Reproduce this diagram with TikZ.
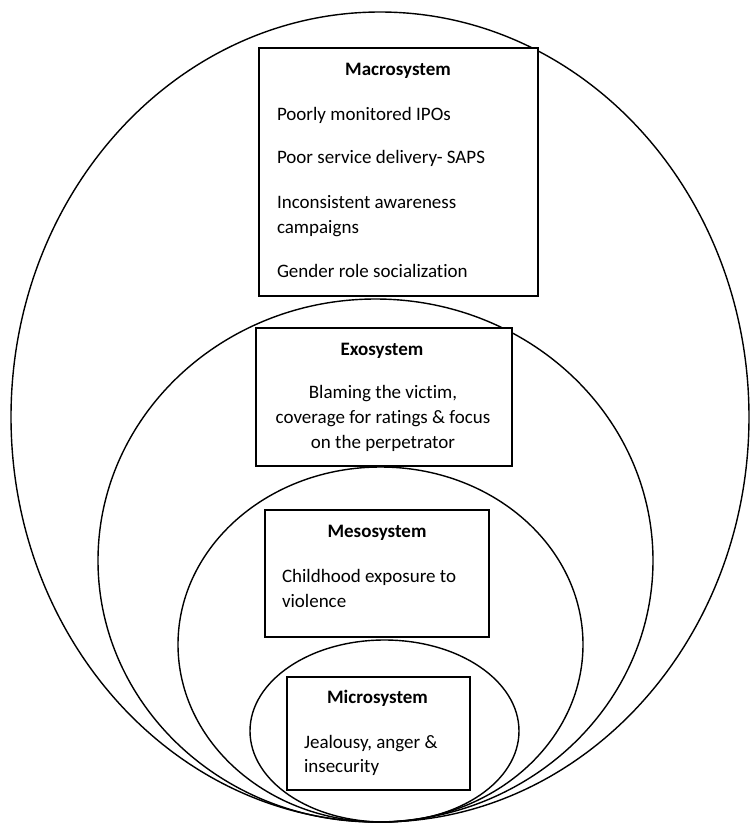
\documentclass[tikz,border=0pt]{standalone}
\usepackage{fontspec}
\setmainfont{Carlito}[Ligatures={NoCommon}]
\usetikzlibrary{shapes.geometric}
\begin{document}
\begin{tikzpicture}[x=0.5pt,y=-0.5pt,
  ring/.style 2 args={draw, ellipse, line width=0.7pt, inner sep=0pt, outer sep=0pt, minimum width=#1, minimum height=#2},
  sysbox/.style 2 args={draw, rectangle, fill=white, line width=0.7pt, inner sep=0pt, minimum width=#1, minimum height=#2},
  txt/.style={inner sep=0pt, outer sep=0pt, font=\fontsize{9.5}{12.5}\selectfont},
  ttl/.style={txt, font=\fontsize{9.5}{12.5}\selectfont\bfseries, anchor=base},
  lft/.style={txt, anchor=base west},
  ctr/.style={txt, anchor=base}
]
\useasboundingbox (0,0) rectangle (751,826);
\fill[white] (0,0) rectangle (751,826);

% rings
\node[ring={369pt}{405pt}] (outer) at (380,417) {};
\node[ring={277.5pt}{261.5pt}] (exo) at (375.5,560.5) {};
\node[ring={202.5pt}{177.5pt}] (meso) at (380.5,644.5) {};
\node[ring={134.5pt}{91pt}] (micro) at (384.5,731) {};

% boxes
\node[sysbox={139.5pt}{124pt}] (macrobox) at (398.5,172) {};
\node[sysbox={128pt}{69pt}] (exobox) at (384,397) {};
\node[sysbox={112pt}{63.5pt}] (mesobox) at (377,573.5) {};
\node[sysbox={91.5pt}{56.5pt}] (microbox) at (378.5,733.5) {};

% macrosystem text
\node[ttl] (macrot) at (398,75) {Macrosystem};
\node[lft] (ma1) at (277,120) {Poorly monitored IPOs};
\node[lft] (ma2) at (277,163) {Poor service delivery- SAPS};
\node[lft] (ma3) at (277,208) {Inconsistent awareness};
\node[lft] (ma4) at (277,233) {campaigns};
\node[lft] (ma5) at (277,277) {Gender role socialization};

% exosystem text
\node[ttl] (exot) at (382,355) {Exosystem};
\node[ctr] (ex1) at (383,398) {Blaming the victim,};
\node[ctr] (ex2) at (383,423) {coverage for ratings \& focus};
\node[ctr] (ex3) at (383,448) {on the perpetrator};

% mesosystem text
\node[ttl] (mesot) at (377,537) {Mesosystem};
\node[lft] (me1) at (282,582) {Childhood exposure to};
\node[lft] (me2) at (282,607) {violence};

% microsystem text
\node[ttl] (microt) at (377.5,703) {Microsystem};
\node[lft] (mi1) at (304,748) {Jealousy, anger \&};
\node[lft] (mi2) at (304,772) {insecurity};
\end{tikzpicture}
\end{document}
